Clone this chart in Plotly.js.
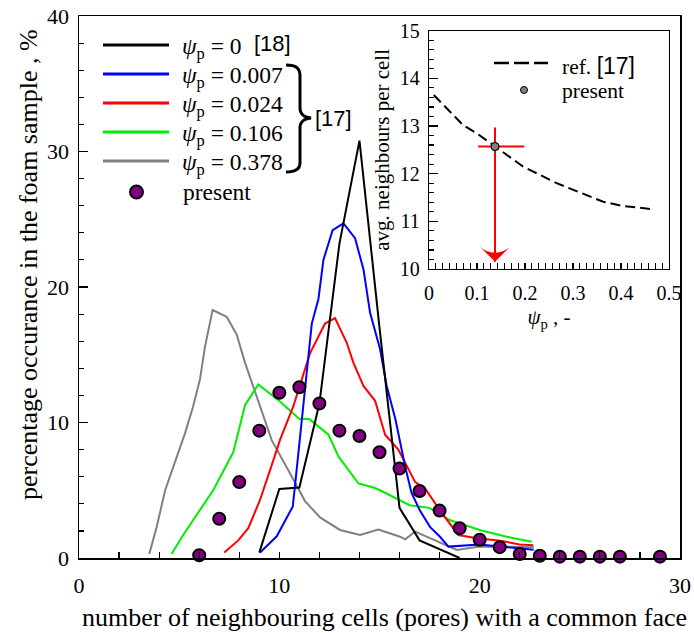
<!DOCTYPE html>
<html>
<head>
<meta charset="utf-8">
<script src="https://cdn.plot.ly/plotly-3.0.1.min.js"></script>
<style>
  html, body { margin: 0; padding: 0; background: #fff; }
  #chart { width: 694px; height: 633px; }
</style>
</head>
<body>
<div id="chart"></div>
<script>
// ---- Distribution of the number of neighbouring cells ----
// psi_p = 0 [18]
const nb_psi0   = [9, 10, 11, 12, 13, 14, 15, 16, 17, 18, 19];
const pct_psi0  = [0.4, 5.1, 5.2, 11.4, 23.2, 30.8, 17.0, 3.7, 1.3, 0.65, 0];

// psi_p = 0.007 [17]
const nb_psi007  = [9.04, 9.87, 10.67, 10.78, 11.62, 11.95, 12.2, 12.66, 13.2, 13.78, 14.2, 14.53, 15.03, 15.36, 15.8, 16.28, 16.6, 17.02, 17.52, 18.02, 18.44, 19.0, 19.5, 20.0, 21.0, 22.0, 22.7];
const pct_psi007 = [0.4, 1.6, 3.8, 5.3, 17.3, 19.1, 22.0, 24.2, 24.7, 23.6, 21.3, 18.1, 15.4, 12.7, 10.2, 6.75, 4.8, 3.5, 2.3, 1.57, 0.84, 0.9, 1.0, 1.0, 0.85, 0.7, 0.6];

// psi_p = 0.024 [17]
const nb_psi024  = [7.25, 7.95, 8.45, 9.04, 9.7, 10.03, 10.7, 11.16, 11.53, 12.28, 12.78, 13.36, 13.7, 14.2, 14.78, 15.28, 15.94, 16.78, 17.27, 18.02, 18.94, 19.85, 20.93, 22.0, 22.68];
const pct_psi024 = [0.4, 1.3, 2.2, 4.3, 7.2, 8.7, 11.2, 13.4, 15.1, 17.3, 17.7, 15.9, 14.4, 12.7, 11.6, 9.1, 8.0, 5.6, 5.15, 3.5, 1.7, 1.45, 1.3, 1.0, 0.94];

// psi_p = 0.106 [17]
const nb_psi106  = [4.62, 5.2, 5.7, 6.2, 6.7, 7.7, 8.29, 8.95, 10.03, 11.0, 11.5, 12.45, 12.95, 13.95, 14.7, 15.03, 16.5, 17.5, 18.5, 20.0, 21.35, 22.6];
const pct_psi106 = [0.3, 1.7, 2.8, 3.9, 5.0, 7.8, 11.3, 12.8, 11.55, 10.25, 10.25, 9.1, 7.5, 5.5, 5.2, 5.0, 3.9, 3.7, 2.8, 2.07, 1.57, 1.2];

// psi_p = 0.378 [17]
const nb_psi378  = [3.51, 3.88, 4.3, 4.7, 5.29, 5.7, 6.04, 6.29, 6.67, 7.37, 7.87, 8.29, 8.87, 9.29, 9.62, 10.7, 11.28, 12.03, 13.03, 14.03, 14.94, 16.03, 16.28, 16.78, 17.7, 18.86, 20.0, 22.0, 22.7];
const pct_psi378 = [0.3, 2.3, 5.0, 6.75, 9.2, 11.2, 13.2, 15.6, 18.3, 17.8, 16.5, 14.4, 11.9, 10.2, 8.7, 5.8, 4.2, 3.0, 2.07, 1.7, 2.1, 1.57, 1.38, 1.95, 1.33, 0.6, 0.85, 0.8, 0.8];

// present foam sample
const nb_present  = [6, 7, 8, 9, 10, 11, 12, 13, 14, 15, 16, 17, 18, 19, 20, 21, 22, 23, 24, 25, 26, 27, 29];
const pct_present = [0.2, 2.9, 5.6, 9.4, 12.2, 12.6, 11.4, 9.4, 9.0, 7.8, 6.6, 4.95, 3.5, 2.2, 1.35, 0.8, 0.3, 0.17, 0.1, 0.1, 0.1, 0.1, 0.1];

// ---- Inset: average neighbours per cell vs psi_p ----
const ref_psi = [0.01, 0.071, 0.099, 0.1375, 0.196, 0.266, 0.363, 0.405, 0.471];
const ref_avg = [13.65, 13.02, 12.85, 12.57, 12.15, 11.8, 11.41, 11.32, 11.25];

const present_psi = [0.1375];
const present_avg = [12.57];
const present_psi_minus = [0.035];
const present_psi_plus  = [0.061];
const present_avg_plus  = [0.4];
const present_avg_low   = [10.15];   // lower end of the range, marked by an arrow

// ---- legend labels ----
const seriesLabels = ['0', '0.007', '0.024', '0.106', '0.378'];
const seriesColors = ['#000000', '#0000ff', '#ff0000', '#00ee00', '#808080'];

const SERIF = 'Liberation Serif';
const SANS  = 'Liberation Sans';

// page geometry (pixels) of the main plotting area
const W = 694, H = 633;
const M = { l: 79, r: 14, t: 16, b: 75 };
const PW = W - M.l - M.r, PH = H - M.t - M.b;
const px = x => (x - M.l) / PW;          // page x -> paper x
const py = y => (H - M.b - y) / PH;      // page y -> paper y
const pt = (x, y) => px(x).toFixed(5) + ',' + py(y).toFixed(5);

const lineSeries = [
  [nb_psi0, pct_psi0],
  [nb_psi007, pct_psi007],
  [nb_psi024, pct_psi024],
  [nb_psi106, pct_psi106],
  [nb_psi378, pct_psi378]
];

const traces = [];
// draw order: grey at the back, black last among lines
[4, 3, 2, 1, 0].forEach(i => {
  traces.push({
    x: lineSeries[i][0], y: lineSeries[i][1],
    type: 'scatter', mode: 'lines',
    line: { color: seriesColors[i], width: 2 },
    hoverinfo: 'skip', showlegend: false
  });
});
traces.push({
  x: nb_present, y: pct_present,
  type: 'scatter', mode: 'markers',
  marker: { color: '#800080', size: 12, line: { color: '#000', width: 2 } },
  cliponaxis: false, showlegend: false
});

// inset
traces.push({
  x: ref_psi, y: ref_avg, xaxis: 'x2', yaxis: 'y2',
  type: 'scatter', mode: 'lines',
  line: { color: '#000', width: 2, dash: '10px,5px' },
  showlegend: false
});
traces.push({
  x: present_psi, y: present_avg, xaxis: 'x2', yaxis: 'y2',
  type: 'scatter', mode: 'markers',
  marker: { color: '#808080', size: 8, line: { color: '#000', width: 1 } },
  error_x: { type: 'data', array: present_psi_plus, arrayminus: present_psi_minus, symmetric: false, color: '#ff0000', thickness: 2, width: 0 },
  error_y: { type: 'data', array: present_avg_plus, arrayminus: present_avg.map((v, i) => v - present_avg_low[i]), symmetric: false, color: '#ff0000', thickness: 2, width: 0 },
  showlegend: false
});
traces.push({
  x: present_psi, y: present_avg_low, xaxis: 'x2', yaxis: 'y2',
  type: 'scatter', mode: 'markers',
  marker: { symbol: 'arrow-wide', angle: 180, color: '#ff0000', size: 22, line: { width: 0 } },
  cliponaxis: false, showlegend: false
});
// keep the grey point above the error bars
traces.push({
  x: present_psi, y: present_avg, xaxis: 'x2', yaxis: 'y2',
  type: 'scatter', mode: 'markers',
  marker: { color: '#808080', size: 8, line: { color: '#000', width: 1 } },
  showlegend: false
});

// ---- hand-built legend (main plot) ----
const shapes = [];
const annotations = [];
const rowY = [45, 74, 103, 132, 161];
rowY.forEach((y, i) => {
  shapes.push({ type: 'line', xref: 'paper', yref: 'paper',
    x0: px(103), x1: px(169), y0: py(y), y1: py(y),
    line: { color: seriesColors[i], width: 3 } });
  annotations.push({ xref: 'paper', yref: 'paper', x: px(180), y: py(y + 3),
    xanchor: 'left', yanchor: 'middle', showarrow: false,
    text: '<i>ψ</i><sub>p</sub> = ' + seriesLabels[i],
    font: { family: SERIF, size: 23.5, color: '#000' } });
});
annotations.push({ xref: 'paper', yref: 'paper', x: px(252), y: py(44),
  xanchor: 'left', yanchor: 'middle', showarrow: false,
  text: '[18]', font: { family: SANS, size: 22, color: '#000' } });
annotations.push({ xref: 'paper', yref: 'paper', x: px(313), y: py(118),
  xanchor: 'left', yanchor: 'middle', showarrow: false,
  text: '[17]', font: { family: SANS, size: 22, color: '#000' } });
// curly brace grouping the four [17] curves
shapes.push({ type: 'path', xref: 'paper', yref: 'paper',
  path: 'M' + pt(286, 65) + ' C' + pt(296, 65) + ' ' + pt(300, 68) + ' ' + pt(300, 76) +
        ' L' + pt(300, 108) + ' C' + pt(300, 114) + ' ' + pt(303, 117) + ' ' + pt(311, 118) +
        ' C' + pt(303, 119) + ' ' + pt(300, 122) + ' ' + pt(300, 128) +
        ' L' + pt(300, 163) + ' C' + pt(300, 169) + ' ' + pt(296, 172) + ' ' + pt(286, 172),
  line: { color: '#000', width: 3 } });
// present marker sample
shapes.push({ type: 'circle', xref: 'paper', yref: 'paper',
  x0: px(130), x1: px(143), y0: py(198.5), y1: py(185.5),
  fillcolor: '#800080', line: { color: '#000', width: 2 } });
annotations.push({ xref: 'paper', yref: 'paper', x: px(181), y: py(192),
  xanchor: 'left', yanchor: 'middle', showarrow: false,
  text: 'present', font: { family: SERIF, size: 23.5, color: '#000' } });

// axis titles of the main plot
annotations.push({ xref: 'paper', yref: 'paper', x: px(28), y: py(265),
  xanchor: 'center', yanchor: 'middle', showarrow: false, textangle: -90,
  text: 'percentage occurance in the foam sample , %',
  font: { family: SERIF, size: 26, color: '#000' } });
annotations.push({ xref: 'paper', yref: 'paper', x: px(384), y: py(617),
  xanchor: 'center', yanchor: 'middle', showarrow: false,
  text: 'number of neighbouring cells (pores) with a common face',
  font: { family: SERIF, size: 26, color: '#000' } });

// ---- inset legend ----
shapes.push({ type: 'line', xref: 'paper', yref: 'paper',
  x0: px(494), x1: px(548), y0: py(63), y1: py(63),
  line: { color: '#000', width: 2.5, dash: '15px,5px' } });
annotations.push({ xref: 'paper', yref: 'paper', x: px(560), y: py(66),
  xanchor: 'left', yanchor: 'middle', showarrow: false,
  text: 'ref. <span style="font-family:Liberation Sans;font-size:23px">[17]</span>',
  font: { family: SERIF, size: 21.5, color: '#000' } });
shapes.push({ type: 'circle', xref: 'paper', yref: 'paper',
  x0: px(520.5), x1: px(527.5), y0: py(93.5), y1: py(86.5),
  fillcolor: '#808080', line: { color: '#000', width: 1 } });
annotations.push({ xref: 'paper', yref: 'paper', x: px(560), y: py(91),
  xanchor: 'left', yanchor: 'middle', showarrow: false,
  text: 'present', font: { family: SERIF, size: 21.5, color: '#000' } });

const tickFont = { family: SERIF, size: 22, color: '#000' };
const insetFont = { family: SERIF, size: 20, color: '#000' };

const layout = {
  width: W, height: H,
  margin: M,
  paper_bgcolor: '#fff', plot_bgcolor: '#fff',
  showlegend: false,
  font: { family: SERIF, color: '#000' },
  xaxis: {
    range: [0, 30], tick0: 0, dtick: 10,
    ticks: 'inside', ticklen: 6, tickwidth: 1.2, tickcolor: '#000',
    minor: { dtick: 2, ticks: 'inside', ticklen: 6, tickwidth: 1.2, tickcolor: '#000', showgrid: false },
    showline: true, mirror: true, linecolor: '#000', linewidth: 1.5,
    showgrid: false, zeroline: false,
    tickfont: tickFont, ticklabelstandoff: 7
  },
  yaxis: {
    range: [0, 40], tick0: 0, dtick: 10,
    ticks: 'inside', ticklen: 9, tickwidth: 1.2, tickcolor: '#000',
    minor: { dtick: 2, ticks: 'inside', ticklen: 5, tickwidth: 1.2, tickcolor: '#000', showgrid: false },
    showline: true, mirror: true, linecolor: '#000', linewidth: 1.5,
    showgrid: false, zeroline: false,
    tickfont: tickFont, ticklabelstandoff: 4
  },
  xaxis2: {
    domain: [px(429), px(669)], anchor: 'y2',
    range: [0, 0.5], tick0: 0, dtick: 0.1,
    ticks: 'inside', ticklen: 6, tickwidth: 1.2, tickcolor: '#000',
    minor: { dtick: 0.1 / 7, ticks: 'inside', ticklen: 6, tickwidth: 1.2, tickcolor: '#000', showgrid: false },
    showline: true, mirror: true, linecolor: '#000', linewidth: 1.2,
    showgrid: false, zeroline: false,
    tickfont: insetFont, ticklabelstandoff: 6,
    title: { text: '<i>ψ</i><sub>p</sub> , -', font: { family: SERIF, size: 21, color: '#000' }, standoff: 6 }
  },
  yaxis2: {
    domain: [py(269), py(30.7)], anchor: 'x2',
    range: [10, 15], tick0: 10, dtick: 1,
    ticks: 'inside', ticklen: 9, tickwidth: 1.2, tickcolor: '#000',
    minor: { dtick: 0.2, ticks: 'inside', ticklen: 5, tickwidth: 1.2, tickcolor: '#000', showgrid: false },
    showline: true, mirror: true, linecolor: '#000', linewidth: 1.2,
    showgrid: false, zeroline: false,
    tickfont: insetFont, ticklabelstandoff: 4,
    title: { text: 'avg. neighbours per cell', font: { family: SERIF, size: 21, color: '#000' }, standoff: 4 }
  },
  shapes: shapes,
  annotations: annotations
};

Plotly.newPlot('chart', traces, layout, { staticPlot: true, displayModeBar: false });
</script>
</body>
</html>
